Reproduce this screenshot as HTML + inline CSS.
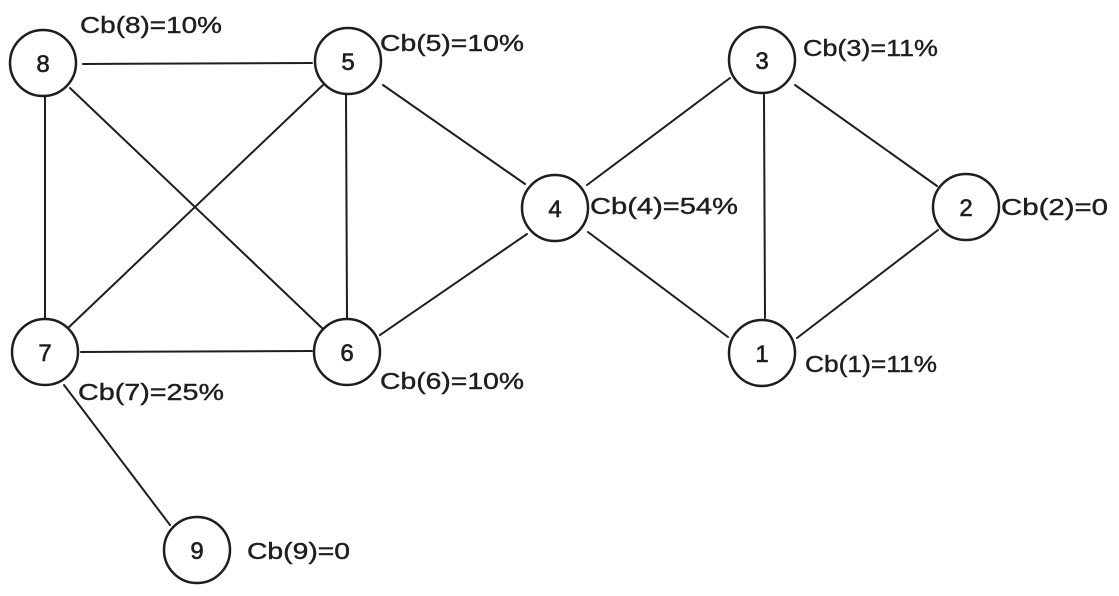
<!DOCTYPE html>
<html><head><meta charset="utf-8"><style>
html,body{margin:0;padding:0;background:#fff;}
svg{display:block}
text{font-family:"Liberation Sans",sans-serif;fill:#1e1e1e}
</style></head><body>
<svg width="1119" height="596" viewBox="0 0 1119 596" xmlns="http://www.w3.org/2000/svg">
<g stroke="#1e1e1e" stroke-width="2" fill="none" stroke-linecap="round">
<line x1="83" y1="64" x2="312" y2="63"/>
<line x1="45" y1="97" x2="45" y2="318"/>
<line x1="70" y1="88" x2="322" y2="328"/>
<line x1="323" y1="85" x2="68" y2="328"/>
<line x1="346" y1="95" x2="347" y2="318"/>
<line x1="383" y1="85" x2="525" y2="184"/>
<line x1="81" y1="352" x2="312" y2="351"/>
<line x1="380" y1="335" x2="527" y2="234"/>
<line x1="587" y1="185" x2="730" y2="78"/>
<line x1="588" y1="232" x2="728" y2="337"/>
<line x1="764" y1="95" x2="765" y2="318"/>
<line x1="795" y1="85" x2="937" y2="186"/>
<line x1="938" y1="230" x2="797" y2="338"/>
<line x1="64" y1="385" x2="170" y2="525"/>
</g>
<g stroke="#1e1e1e" stroke-width="2.5" fill="#fff">
<circle cx="43" cy="63" r="33"/>
<circle cx="348" cy="61" r="33"/>
<circle cx="762" cy="60" r="33"/>
<circle cx="555" cy="208" r="33"/>
<circle cx="966" cy="207" r="33"/>
<circle cx="45" cy="352" r="33"/>
<circle cx="347" cy="352" r="33"/>
<circle cx="762" cy="353" r="33"/>
<circle cx="197" cy="550" r="33"/>
</g>
<g font-size="24" text-anchor="middle" stroke="#1e1e1e" stroke-width="0.6">
<text x="43" y="72">8</text>
<text x="348" y="70">5</text>
<text x="762" y="69">3</text>
<text x="555" y="217">4</text>
<text x="966" y="216">2</text>
<text x="45" y="361">7</text>
<text x="347" y="361">6</text>
<text x="762" y="362">1</text>
<text x="197" y="559">9</text>
</g>
<g font-size="23" stroke="#1e1e1e" stroke-width="0.4">
<text x="80" y="33" textLength="142" lengthAdjust="spacingAndGlyphs">Cb(8)=10%</text>
<text x="380" y="51" textLength="144" lengthAdjust="spacingAndGlyphs">Cb(5)=10%</text>
<text x="803" y="56" textLength="135" lengthAdjust="spacingAndGlyphs">Cb(3)=11%</text>
<text x="590" y="214" textLength="148" lengthAdjust="spacingAndGlyphs">Cb(4)=54%</text>
<text x="1001" y="215" textLength="107" lengthAdjust="spacingAndGlyphs">Cb(2)=0</text>
<text x="78" y="400" textLength="146" lengthAdjust="spacingAndGlyphs">Cb(7)=25%</text>
<text x="380" y="389" textLength="144" lengthAdjust="spacingAndGlyphs">Cb(6)=10%</text>
<text x="805" y="372" textLength="132" lengthAdjust="spacingAndGlyphs">Cb(1)=11%</text>
<text x="247" y="559" textLength="103" lengthAdjust="spacingAndGlyphs">Cb(9)=0</text>
</g>
</svg>
</body></html>
